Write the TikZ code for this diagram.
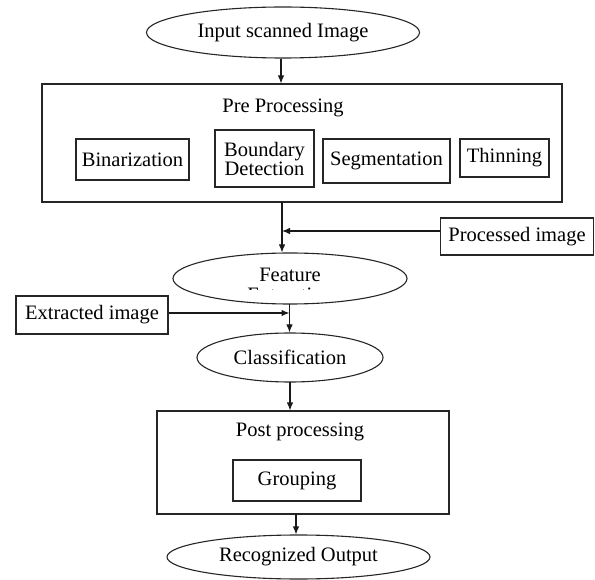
\documentclass[tikz,border=0pt]{standalone}
\usepackage{fontspec}
\setmainfont{Liberation Serif}
\usetikzlibrary{shapes.geometric,arrows.meta,calc}
\begin{document}
\begin{tikzpicture}[x=1pt,y=1pt,
  every node/.style={font=\fontsize{20.5}{19}\selectfont, inner sep=0pt, text=black},
  lin/.style={draw=black!85, line width=1.1pt},
  oval/.style={ellipse, lin},
  bx/.style={rectangle, lin},
  arr/.style={black!90, line width=1.1pt, -{Latex[length=8pt,width=6.5pt]}},
  ln/.style={black!90, line width=1.1pt}]
\useasboundingbox (0,0) rectangle (595,-580);
% nodes
\node[oval, minimum width=273, minimum height=51] (in) at (283,-32.5) {Input scanned Image};
\node[bx, minimum width=520, minimum height=118] (pre) at (302,-143) {};
\node (pretitle) at (283,-108) {Pre Processing};
\node[bx, minimum width=113, minimum height=41] (bin) at (132.5,-159.5) {Binarization};
\node[bx, minimum width=99, minimum height=57, align=center] (bnd) at (264.5,-158.5) {Boundary\\Detection};
\node[bx, minimum width=127, minimum height=44] (seg) at (386.5,-161) {Segmentation};
\node[bx, minimum width=89, minimum height=38] (thin) at (504.5,-158) {Thinning};
\node[bx, minimum width=153, minimum height=37] (proc) at (517,-236.5) {Processed image};
\node[oval, minimum width=234, minimum height=51] (feat) at (290,-278.5) {};
\node (feattxt) at (290,-275) {Feature};
\begin{scope}
  \clip (230,-285.5) rectangle (350,-289.5);
  \node (featcut) at (290,-295) {Extraction};
\end{scope}
\node[bx, minimum width=152, minimum height=38] (ext) at (92,-315) {Extracted image};
\node[oval, minimum width=186, minimum height=49] (cls) at (290,-357.5) {Classification};
\node[bx, minimum width=292, minimum height=103] (post) at (303,-462.5) {};
\node (posttitle) at (300,-432) {Post processing};
\node[bx, minimum width=128, minimum height=41] (grp) at (297,-480.5) {Grouping};
\node[oval, minimum width=263, minimum height=44] (out) at (298.5,-557) {Recognized Output};
% junction coordinates
\coordinate (j1) at (282,-202);
\coordinate (j2) at (289.5,-304);
\coordinate (j3) at (290,-382);
\coordinate (j4) at (296,-514);
% connectors
\draw[arr] ([xshift=-2pt]in.south) -- ([xshift=-2pt]in.south |- pre.north);
\draw[arr] (j1) -- (j1 |- feat.north);
\draw[arr] ([yshift=5.5pt]proc.west) -- ([yshift=5.5pt]proc.west -| j1);
\draw[arr] (j2) -- (j2 |- cls.north);
\draw[arr] ([yshift=2pt]ext.east) -- ([yshift=2pt]ext.east -| j2);
\draw[arr] (j3) -- (j3 |- post.north);
\draw[arr] (j4) -- (j4 |- out.north);
\end{tikzpicture}
\end{document}
